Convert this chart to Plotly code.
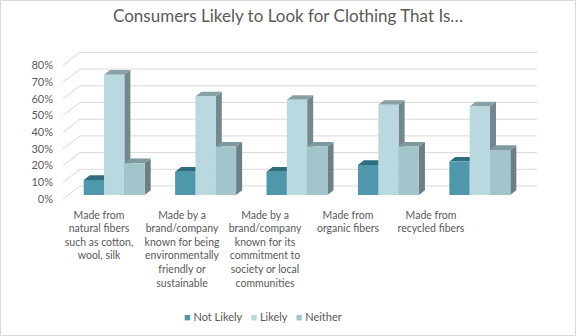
import plotly.graph_objects as go

# ---------------- data ----------------
categories = [
    "Made from<br>natural fibers<br>such as cotton,<br>wool, silk",
    "Made by a<br>brand/company<br>known for being<br>environmentally<br>friendly or<br>sustainable",
    "Made by a<br>brand/company<br>known for its<br>commitment to<br>society or local<br>communities",
    "Made from<br>organic fibers",
    "Made from<br>recycled fibers",
]
series_names = ["Not Likely", "Likely", "Neither"]
not_likely = [0.09, 0.14, 0.14, 0.18, 0.20]
likely = [0.72, 0.59, 0.57, 0.54, 0.53]
neither = [0.19, 0.29, 0.29, 0.29, 0.27]
series_values = [not_likely, likely, neither]
y_ticks = [0, 0.1, 0.2, 0.3, 0.4, 0.5, 0.6, 0.7, 0.8]

# ---------------- style ----------------
front_cols = ["#4f97ab", "#bad8df", "#a3c4cb"]
top_cols = ["#2f6d7e", "#88a1a6", "#7f9a9f"]
side_cols = ["#31697a", "#73888d", "#6a8085"]
grid_col = "#d9d9d9"
txt_col = "#595959"
FONT = "Lato, 'Open Sans', sans-serif"

W, H = 576, 336
ml, mr, mt, mb = 62, 31, 45, 136
x_range = [-0.197, 5.087]
y_range = [-0.0838, 0.8443]
pw, ph = W - ml - mr, H - mt - mb

# oblique offsets (axis units)
floor_dx, floor_dy = -0.186, -0.078      # front edge of floor relative to back wall
bar_front_dx, bar_front_dy = -0.126, -0.054
bar_back_dx, bar_back_dy = -0.060, -0.026
group_w = 0.667
bar_w = group_w / 3
label_start, label_step = -0.246, 0.908

fig = go.Figure()

def poly(xs, ys, color):
    fig.add_trace(go.Scatter(
        x=xs + [xs[0]], y=ys + [ys[0]], mode="lines", fill="toself",
        fillcolor=color, line=dict(width=0, color=color),
        hoverinfo="skip", showlegend=False))

# back wall grid + side wall diagonals
gx, gy = [], []
for v in y_ticks:
    gx += [floor_dx, 0, 5, None]
    gy += [v + floor_dy, v, v, None]
fig.add_trace(go.Scatter(x=gx, y=gy, mode="lines",
                         line=dict(color=grid_col, width=1),
                         hoverinfo="skip", showlegend=False))

# 3D bars in painter's order
for i in range(len(categories)):
    center = i + 0.5 + bar_front_dx
    for j, vals in enumerate(series_values):
        v = vals[i]
        x0 = center - group_w / 2 + j * bar_w
        x1 = x0 + bar_w
        b0 = bar_front_dy
        t0 = v + bar_front_dy
        ddx = bar_back_dx - bar_front_dx
        ddy = bar_back_dy - bar_front_dy
        poly([x1, x1 + ddx, x1 + ddx, x1], [b0, b0 + ddy, t0 + ddy, t0], side_cols[j])
        poly([x0, x1, x1 + ddx, x0 + ddx], [t0, t0, t0 + ddy, t0 + ddy], top_cols[j])
        poly([x0, x1, x1, x0], [b0, b0, t0, t0], front_cols[j])

# legend (compact, Excel-like)
legend_text = "&nbsp;&nbsp;&nbsp;".join(
    f'<span style="color:{front_cols[j]}">■</span> {name}'
    for j, name in enumerate(series_names))
legend_ann = dict(text=legend_text, xref="paper", yref="paper",
                  x=(263 - ml) / pw, y=-(316 - (H - mb)) / ph,
                  xanchor="center", yanchor="middle", showarrow=False,
                  font=dict(size=11, color=txt_col, family=FONT))

fig.update_layout(
    width=W, height=H,
    margin=dict(l=ml, r=mr, t=mt, b=mb),
    paper_bgcolor="white", plot_bgcolor="white",
    font=dict(family=FONT, color=txt_col, size=11),
    title=dict(text="Consumers Likely to Look for Clothing That Is…",
               x=0.5, xanchor="center", y=1 - 16 / H, yanchor="middle",
               font=dict(size=17, color=txt_col, family=FONT)),
    showlegend=False,
    annotations=[legend_ann],
    xaxis=dict(range=x_range, showgrid=False, zeroline=False, showline=False,
               tickmode="array",
               tickvals=[label_start + label_step * (i + 0.5) for i in range(len(categories))],
               ticktext=categories, ticks="", ticklabelstandoff=7,
               tickfont=dict(size=10.5, color=txt_col), fixedrange=True),
    yaxis=dict(range=y_range, showgrid=False, zeroline=False, showline=False,
               tickmode="array", tickvals=y_ticks,
               ticktext=[f"{int(round(v * 100))}%" for v in y_ticks],
               ticks="", ticklabelshift=13, ticklabelstandoff=8,
               tickfont=dict(size=11, color=txt_col), fixedrange=True),
    shapes=[dict(type="rect", xref="paper", yref="paper",
                 x0=-(ml - 0.5) / pw, x1=1 + (mr - 0.5) / pw,
                 y0=-(mb - 0.5) / ph, y1=1 + (mt - 0.5) / ph,
                 line=dict(color="#d9d9d9", width=1), layer="below")],
)

fig.write_html("out.html")
